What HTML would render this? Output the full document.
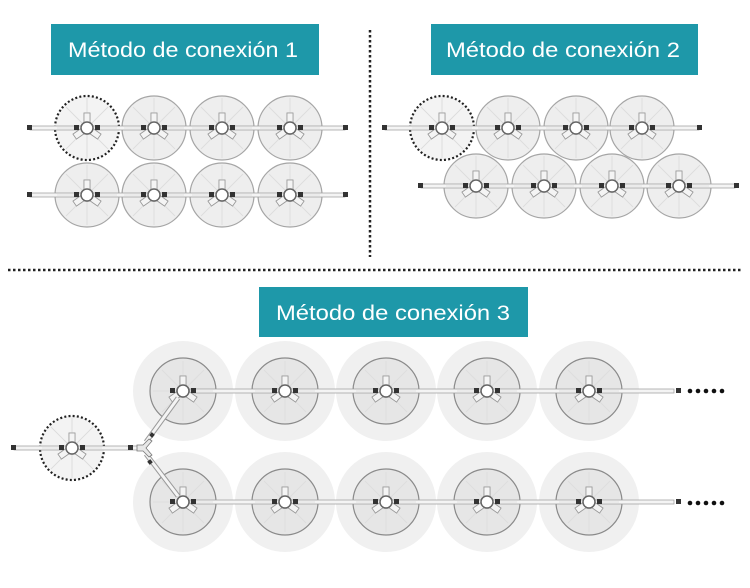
<!DOCTYPE html>
<html><head><meta charset="utf-8"><style>
html,body{margin:0;padding:0;background:#fff;width:750px;height:588px;overflow:hidden}
svg{display:block}
.lbl{font-family:"Liberation Sans",sans-serif;font-size:21px;fill:#fff}
</style></head><body>
<svg width="750" height="588" viewBox="0 0 750 588" xmlns="http://www.w3.org/2000/svg">
<defs>
  <g id="hub">
    <g stroke="#ddd" stroke-width="0.8">
      <line x1="-30" y1="0" x2="30" y2="0"/><line x1="0" y1="-30" x2="0" y2="30"/>
      <line x1="-21" y1="-21" x2="21" y2="21"/><line x1="-21" y1="21" x2="21" y2="-21"/>
    </g>
    <rect x="-3" y="-15" width="6" height="11" fill="#f4f4f4" stroke="#999" stroke-width="0.8"/>
    <rect x="-3" y="-15" width="6" height="11" fill="#f4f4f4" stroke="#999" stroke-width="0.8" transform="rotate(125)"/>
    <rect x="-3" y="-15" width="6" height="11" fill="#f4f4f4" stroke="#999" stroke-width="0.8" transform="rotate(-125)"/>
    <circle r="6" fill="#fff" stroke="#666" stroke-width="1.5"/>
    <circle r="3" fill="#fff"/>
    <rect x="-13" y="-3" width="5" height="5" fill="#333"/>
    <rect x="8" y="-3" width="5" height="5" fill="#333"/>
  </g>
  <g id="reel">
    <circle r="32" fill="#eeeeee" stroke="#a5a5a5" stroke-width="1.2"/>
    <use href="#hub"/>
  </g>
  <g id="reelD">
    <circle r="32" fill="#f3f3f3" stroke="#222" stroke-width="2.2" stroke-dasharray="2 2.2"/>
    <use href="#hub"/>
  </g>
  <g id="reel3">
    <circle r="50" fill="#f0f0f0"/>
    <circle r="33" fill="#e6e6e6" stroke="#8a8a8a" stroke-width="1.2"/>
    <use href="#hub"/>
  </g>
</defs>

<rect x="51" y="24" width="268" height="51" fill="#1e98a9"/>
<text x="68" y="57" class="lbl" textLength="230" lengthAdjust="spacingAndGlyphs">Método de conexión 1</text>
<rect x="431" y="24" width="267" height="51" fill="#1e98a9"/>
<text x="446" y="57" class="lbl" textLength="234" lengthAdjust="spacingAndGlyphs">Método de conexión 2</text>
<rect x="259" y="287" width="269" height="50" fill="#1e98a9"/>
<text x="276" y="320" class="lbl" textLength="234" lengthAdjust="spacingAndGlyphs">Método de conexión 3</text>

<line x1="370" y1="30" x2="370" y2="257" stroke="#222" stroke-width="2.5" stroke-dasharray="2.5 2.5"/>
<line x1="8" y1="270" x2="742" y2="270" stroke="#222" stroke-width="2.5" stroke-dasharray="2.5 2.5"/>

<g>
  <use href="#reelD" x="87" y="128"/><use href="#reel" x="154" y="128"/><use href="#reel" x="222" y="128"/><use href="#reel" x="290" y="128"/>
  <use href="#reel" x="87" y="195"/><use href="#reel" x="154" y="195"/><use href="#reel" x="222" y="195"/><use href="#reel" x="290" y="195"/>
  <rect x="30" y="126" width="315" height="4" fill="#f4f4f4" stroke="#999" stroke-width="0.7"/>
  <rect x="30" y="193" width="315" height="4" fill="#f4f4f4" stroke="#999" stroke-width="0.7"/>
  <rect x="27" y="125" width="5" height="5" fill="#333"/><rect x="343" y="125" width="5" height="5" fill="#333"/>
  <rect x="27" y="192" width="5" height="5" fill="#333"/><rect x="343" y="192" width="5" height="5" fill="#333"/>
  <g><use href="#hub" x="87" y="128"/><use href="#hub" x="154" y="128"/><use href="#hub" x="222" y="128"/><use href="#hub" x="290" y="128"/>
  <use href="#hub" x="87" y="195"/><use href="#hub" x="154" y="195"/><use href="#hub" x="222" y="195"/><use href="#hub" x="290" y="195"/></g>
</g>

<g>
  <use href="#reel" x="476" y="186"/><use href="#reel" x="544" y="186"/><use href="#reel" x="612" y="186"/><use href="#reel" x="679" y="186"/>
  <use href="#reelD" x="442" y="128"/><use href="#reel" x="508" y="128"/><use href="#reel" x="576" y="128"/><use href="#reel" x="642" y="128"/>
  <rect x="385" y="126" width="314" height="4" fill="#f4f4f4" stroke="#999" stroke-width="0.7"/>
  <rect x="421" y="184" width="314" height="4" fill="#f4f4f4" stroke="#999" stroke-width="0.7"/>
  <rect x="382" y="125" width="5" height="5" fill="#333"/><rect x="697" y="125" width="5" height="5" fill="#333"/>
  <rect x="418" y="183" width="5" height="5" fill="#333"/><rect x="734" y="183" width="5" height="5" fill="#333"/>
  <use href="#hub" x="442" y="128"/><use href="#hub" x="508" y="128"/><use href="#hub" x="576" y="128"/><use href="#hub" x="642" y="128"/>
  <use href="#hub" x="476" y="186"/><use href="#hub" x="544" y="186"/><use href="#hub" x="612" y="186"/><use href="#hub" x="679" y="186"/>
</g>

<g>
  <use href="#reel3" x="183" y="391"/><use href="#reel3" x="285" y="391"/><use href="#reel3" x="386" y="391"/><use href="#reel3" x="487" y="391"/><use href="#reel3" x="589" y="391"/>
  <use href="#reel3" x="183" y="502"/><use href="#reel3" x="285" y="502"/><use href="#reel3" x="386" y="502"/><use href="#reel3" x="487" y="502"/><use href="#reel3" x="589" y="502"/>
  <rect x="190" y="389" width="484" height="4" fill="#f4f4f4" stroke="#999" stroke-width="0.7"/>
  <rect x="190" y="500" width="484" height="4" fill="#f4f4f4" stroke="#999" stroke-width="0.7"/>
  <rect x="676" y="388" width="5" height="5" fill="#333"/><rect x="676" y="499" width="5" height="5" fill="#333"/>
  <g fill="#111">
    <circle cx="690" cy="391" r="2.3"/><circle cx="698" cy="391" r="2.3"/><circle cx="706" cy="391" r="2.3"/><circle cx="714" cy="391" r="2.3"/><circle cx="722" cy="391" r="2.3"/>
    <circle cx="690" cy="503" r="2.3"/><circle cx="698" cy="503" r="2.3"/><circle cx="706" cy="503" r="2.3"/><circle cx="714" cy="503" r="2.3"/><circle cx="722" cy="503" r="2.3"/>
  </g>
  <use href="#hub" x="183" y="391"/><use href="#hub" x="285" y="391"/><use href="#hub" x="386" y="391"/><use href="#hub" x="487" y="391"/><use href="#hub" x="589" y="391"/>
  <use href="#hub" x="183" y="502"/><use href="#hub" x="285" y="502"/><use href="#hub" x="386" y="502"/><use href="#hub" x="487" y="502"/><use href="#hub" x="589" y="502"/>
  <use href="#reelD" x="72" y="448"/>
  <rect x="14" y="446" width="124" height="4" fill="#f4f4f4" stroke="#999" stroke-width="0.7"/>
  <rect x="11" y="445" width="5" height="5" fill="#333"/><rect x="128" y="445" width="5" height="5" fill="#333"/>
  <use href="#hub" x="72" y="448"/>
  <line x1="146" y1="442" x2="178" y2="398" stroke="#999" stroke-width="5"/>
  <line x1="146" y1="442" x2="178" y2="398" stroke="#f4f4f4" stroke-width="3"/>
  <line x1="146" y1="454" x2="178" y2="496" stroke="#999" stroke-width="5"/>
  <line x1="146" y1="454" x2="178" y2="496" stroke="#f4f4f4" stroke-width="3"/>
  <path d="M137 445 L143 445 L149 439 L152 441 L146 448 L152 455 L149 457 L143 451 L137 451 Z" fill="#e8e8e8" stroke="#777" stroke-width="0.8"/>
  <rect x="150" y="433" width="4" height="4" fill="#333" transform="rotate(-50 152 435)"/>
  <rect x="148" y="460" width="4" height="4" fill="#333" transform="rotate(50 150 462)"/>
</g>
</svg>
</body></html>
